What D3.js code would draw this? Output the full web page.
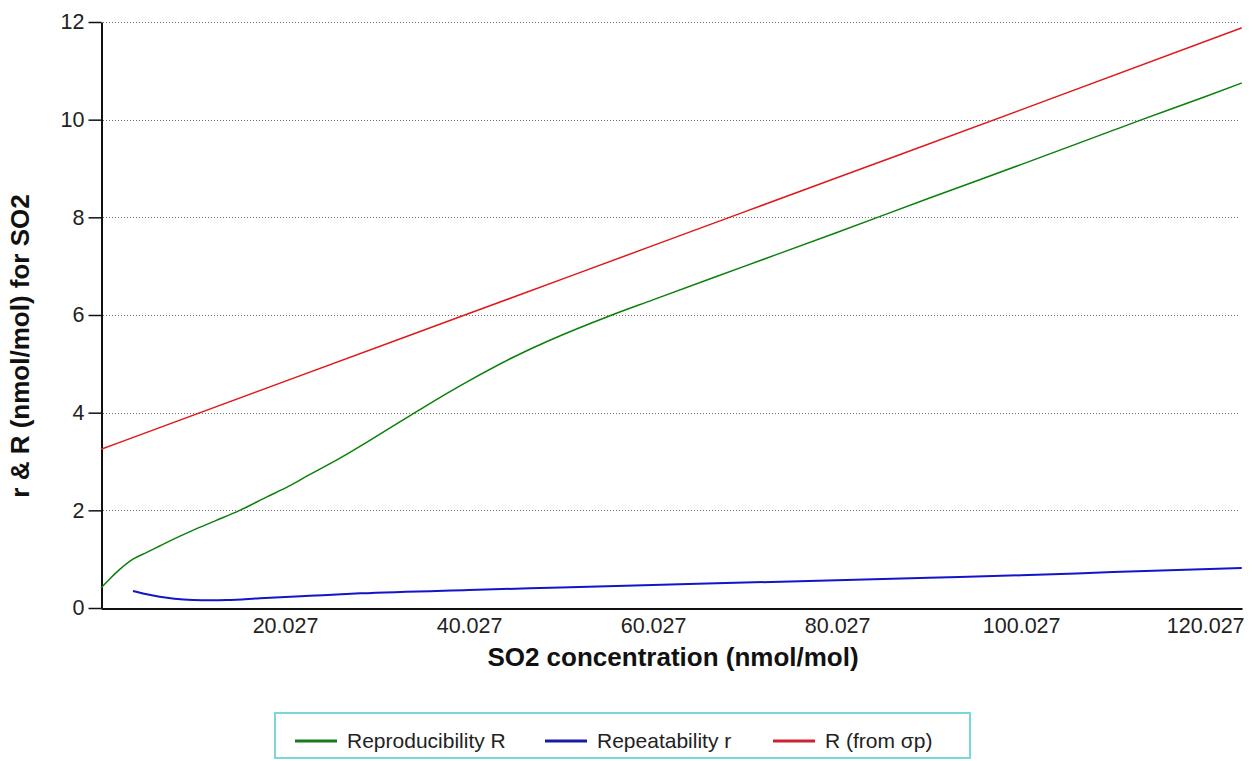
<!DOCTYPE html>
<html>
<head>
<meta charset="utf-8">
<script src="https://cdn.jsdelivr.net/npm/d3@7"></script>
<style>
  html, body { margin: 0; padding: 0; background: #ffffff; }
  svg { display: block; }
  text { font-family: Arial, "Liberation Sans", sans-serif; }
</style>
</head>
<body>
<svg id="chart" width="1253" height="761"></svg>
<script>
// SO2 concentration (nmol/mol) sample points for each curve
const reproX = [0.027, 1, 2, 3.5, 5, 6.4, 7.8, 10, 12.5, 15.1, 18, 20.5, 22.4, 26, 30, 35, 40, 45, 50, 55, 60, 70, 80, 90, 100, 110, 113, 120, 124];
const reproR = [0.41, 0.60, 0.78, 1.0, 1.14, 1.27, 1.40, 1.59, 1.79, 2.0, 2.27, 2.50, 2.70, 3.07, 3.52, 4.10, 4.65, 5.15, 5.58, 5.96, 6.31, 7.0, 7.69, 8.39, 9.08, 9.78, 9.99, 10.47, 10.75];

const repeatX = [3.5, 5, 6.4, 8, 10, 12, 13.7, 17.3, 22.7, 28.2, 40, 50, 60, 70, 80, 90, 100, 110, 124];
const repeatR = [0.35, 0.28, 0.23, 0.19, 0.165, 0.16, 0.165, 0.20, 0.25, 0.30, 0.37, 0.42, 0.47, 0.52, 0.57, 0.62, 0.67, 0.735, 0.82];

const sigmaX = [0.027, 20, 40, 60, 80, 100, 124];
const sigmaR = [3.25, 4.64, 6.03, 7.42, 8.81, 10.2, 11.88];

// axis ticks
const xTickValues = [20.027, 40.027, 60.027, 80.027, 100.027, 120.027];
const xTickLabels = ["20.027", "40.027", "60.027", "80.027", "100.027", "120.027"];
const yTickValues = [0, 2, 4, 6, 8, 10, 12];
const yTickLabels = ["0", "2", "4", "6", "8", "10", "12"];

const seriesNames = ["Reproducibility R", "Repeatability r", "R (from σp)"];
const seriesColors = ["#0a800a", "#1414c8", "#e01818"];
const legendColors = ["#1b7a1b", "#1a1aa8", "#cc2230"];

const svg = d3.select("#chart");

const x = d3.scaleLinear().domain([0.027, 124.027]).range([101, 1242]);
const y = d3.scaleLinear().domain([0, 12]).range([608, 22]);

// horizontal dotted grid lines
svg.append("g")
  .selectAll("line")
  .data(yTickValues.filter(v => v > 0))
  .join("line")
  .attr("x1", x(0.027) + 2)
  .attr("x2", 1239)
  .attr("y1", d => Math.round(y(d)) + 0.5)
  .attr("y2", d => Math.round(y(d)) + 0.5)
  .attr("stroke", "#707070")
  .attr("stroke-width", 1)
  .attr("stroke-dasharray", "1,2");

// y axis
const yAxis = d3.axisLeft(y)
  .tickValues(yTickValues)
  .tickFormat((d, i) => yTickLabels[i])
  .tickSize(13)
  .tickSizeOuter(0)
  .tickPadding(4);

const gy = svg.append("g")
  .attr("transform", "translate(101.5,0)")
  .call(yAxis);
gy.select(".domain").attr("stroke", "#111").attr("stroke-width", 2);
gy.selectAll(".tick line").attr("stroke", "#111").attr("stroke-width", 1.5);
gy.selectAll(".tick text")
  .attr("font-size", 21.5)
  .attr("font-family", "Arial, 'Liberation Sans', sans-serif")
  .attr("fill", "#222");

// x axis (labels only, no tick marks)
const xAxis = d3.axisBottom(x)
  .tickValues(xTickValues)
  .tickFormat((d, i) => xTickLabels[i])
  .tickSize(0)
  .tickSizeOuter(0)
  .tickPadding(4);

const gx = svg.append("g")
  .attr("transform", "translate(0,608.5)")
  .call(xAxis);
gx.select(".domain").attr("stroke", "#111").attr("stroke-width", 2);
gx.selectAll(".tick text")
  .attr("font-size", 21.5)
  .attr("font-family", "Arial, 'Liberation Sans', sans-serif")
  .attr("fill", "#222")
  .attr("dy", "0.95em");

// series lines
const line = d3.line()
  .x(d => x(d[0]))
  .y(d => y(d[1]))
  .curve(d3.curveMonotoneX);

const series = [
  { xs: reproX, ys: reproR },
  { xs: repeatX, ys: repeatR },
  { xs: sigmaX, ys: sigmaR }
];

svg.append("g")
  .selectAll("path")
  .data(series)
  .join("path")
  .attr("d", s => line(s.xs.map((v, i) => [v, s.ys[i]])))
  .attr("fill", "none")
  .attr("stroke", (s, i) => seriesColors[i])
  .attr("stroke-width", (s, i) => i === 1 ? 2 : 1.5)
  .attr("stroke-linejoin", "round");

// axis titles
svg.append("text")
  .attr("x", 673)
  .attr("y", 666)
  .attr("text-anchor", "middle")
  .attr("font-size", 26)
  .attr("font-weight", "bold")
  .attr("fill", "#111")
  .text("SO2 concentration (nmol/mol)");

svg.append("text")
  .attr("transform", "translate(29,346) rotate(-90)")
  .attr("text-anchor", "middle")
  .attr("font-size", 26)
  .attr("font-weight", "bold")
  .attr("fill", "#111")
  .text("r & R (nmol/mol) for SO2");

// legend
const legend = svg.append("g");
legend.append("rect")
  .attr("x", 275)
  .attr("y", 713)
  .attr("width", 695)
  .attr("height", 45)
  .attr("fill", "#ffffff")
  .attr("stroke", "#7ad8d8")
  .attr("stroke-width", 2);

const legendLineX = [295, 545, 773];
const items = legend.selectAll("g.item")
  .data(seriesNames)
  .join("g")
  .attr("class", "item")
  .attr("transform", (d, i) => `translate(${legendLineX[i]},741)`);

items.append("line")
  .attr("x1", 0)
  .attr("x2", 42)
  .attr("y1", 0)
  .attr("y2", 0)
  .attr("stroke", (d, i) => legendColors[i])
  .attr("stroke-width", 3);

items.append("text")
  .attr("x", 52)
  .attr("y", 0)
  .attr("dy", "0.35em")
  .attr("font-size", 21)
  .attr("fill", "#222")
  .text(d => d);
</script>
</body>
</html>
